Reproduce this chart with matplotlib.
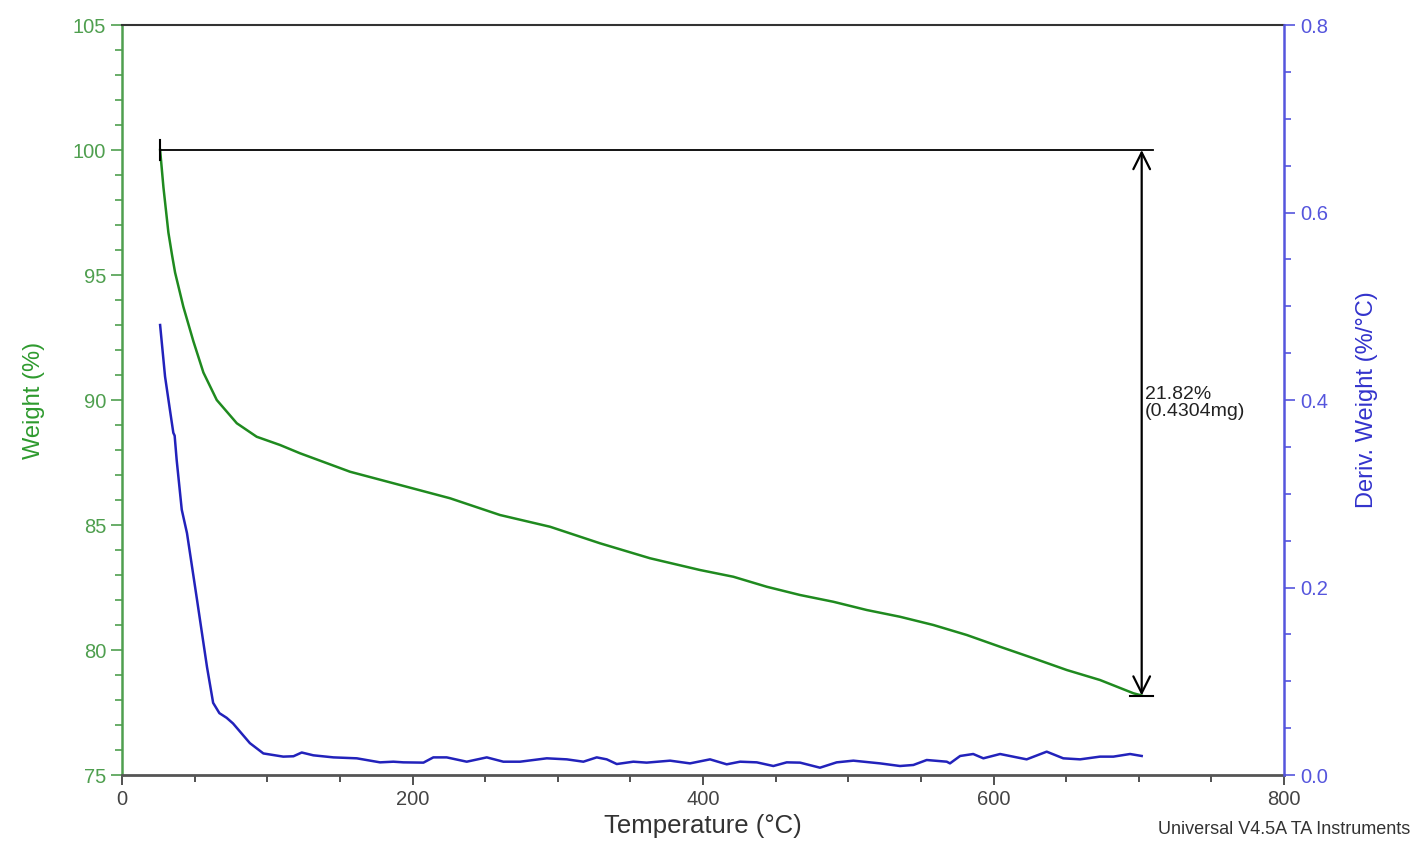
import matplotlib
matplotlib.use('Agg')
import matplotlib.pyplot as plt
from matplotlib.ticker import MultipleLocator

plt.rcParams['font.family'] = ['Liberation Sans', 'DejaVu Sans']

# Weight curve (%)
temp_w = [26.2, 28.5, 31.9, 34.4, 36.5, 42.2, 49.1, 56, 65.2, 79, 92.7, 108.8,
          122.5, 157, 191.4, 225.8, 260.2, 294.7, 329, 363.5, 397.9, 420.9,
          443.9, 466.8, 489.7, 512.7, 535.6, 558.6, 581.6, 604.5, 627.5, 650.4,
          673.3, 696.3, 702]
weight = [100.0, 98.5, 96.7, 95.8, 95.1, 93.73, 92.35, 91.1, 90.0, 89.07, 88.53,
          88.2, 87.87, 87.13, 86.6, 86.07, 85.4, 84.93, 84.27, 83.67, 83.2,
          82.93, 82.53, 82.2, 81.93, 81.6, 81.33, 81.0, 80.6, 80.13, 79.67, 79.2,
          78.8, 78.27, 78.18]

# Derivative weight curve (%/°C)
temp_d = [26.2, 29.6, 33, 35.3, 36.2, 37.6, 41.1, 44.7, 51.6, 58.5, 62.7, 67, 72,
          76.4, 88, 97.3, 111, 118, 123.7, 131.7, 145.5, 161.6, 177.6, 186.8,
          193.7, 207.5, 214.3, 223.5, 237.3, 251.1, 262.5, 274, 292.4, 306.2,
          317.6, 326.8, 333.7, 340.6, 352, 361.2, 377.3, 391, 404.8, 416.3,
          425.5, 437, 448.4, 457.6, 466.8, 480.5, 492, 503.5, 521.9, 535.6,
          544.8, 554, 567.8, 570, 577, 586, 593, 604.5, 616, 622.8, 636.6, 648,
          659.6, 673.3, 682.5, 694, 702]
deriv = [0.480, 0.425, 0.389, 0.365, 0.362, 0.336, 0.283, 0.258, 0.187, 0.115,
         0.077, 0.066, 0.061, 0.055, 0.034, 0.023, 0.0196, 0.020, 0.024, 0.021,
         0.0188, 0.0178, 0.0135, 0.0142, 0.0135, 0.0132, 0.0188, 0.0188, 0.0142,
         0.0188, 0.0142, 0.0142, 0.0178, 0.0167, 0.0142, 0.0188, 0.0167, 0.0117,
         0.0142, 0.0132, 0.0153, 0.0124, 0.0167, 0.0114, 0.0142, 0.0135, 0.0096,
         0.0135, 0.0132, 0.0078, 0.0135, 0.0153, 0.0124, 0.0096, 0.0107, 0.016,
         0.0142, 0.0124, 0.0203, 0.0224, 0.0178, 0.0224, 0.0188, 0.0167, 0.0249,
         0.0178, 0.0167, 0.0196, 0.0196, 0.0224, 0.0203]

loss_pct = '21.82%'
loss_mg = '(0.4304mg)'
w_start, w_end = 100.0, 78.18
t_start, t_end = 26, 702

green_line = '#1f8a1f'
green_axis = '#4f9f4f'
blue_line = '#2222bb'
blue_axis = '#5555dd'

fig = plt.figure(figsize=(14.16, 8.51), dpi=100)
ax = fig.add_axes([0.0862, 0.0893, 0.8206, 0.8813])
ax2 = ax.twinx()

ax.plot(temp_w, weight, color=green_line, lw=1.8)
ax2.plot(temp_d, deriv, color=blue_line, lw=1.8)

ax.set_xlim(0, 800)
ax.set_ylim(75, 105)
ax2.set_ylim(0, 0.8)

ax.xaxis.set_major_locator(MultipleLocator(200))
ax.xaxis.set_minor_locator(MultipleLocator(50))
ax.yaxis.set_major_locator(MultipleLocator(5))
ax.yaxis.set_minor_locator(MultipleLocator(1))
ax2.yaxis.set_major_locator(MultipleLocator(0.2))
ax2.yaxis.set_minor_locator(MultipleLocator(0.05))
ax2.yaxis.set_major_formatter(plt.FormatStrFormatter('%.1f'))

ax.tick_params(axis='x', which='both', direction='out', colors='#333333',
               labelsize=14.5, labelcolor='#444444')
ax.tick_params(axis='x', which='major', length=7, width=1.2)
ax.tick_params(axis='x', which='minor', length=5, width=1.2)
ax.tick_params(axis='y', which='both', direction='out', colors=green_axis,
               labelsize=14.5)
ax.tick_params(axis='y', which='major', length=8, width=1.2)
ax.tick_params(axis='y', which='minor', length=5, width=1.2)
ax2.tick_params(axis='y', which='both', direction='out', colors=blue_axis,
                labelsize=14.5)
ax2.tick_params(axis='y', which='major', length=8, width=1.2)
ax2.tick_params(axis='y', which='minor', length=5, width=1.2)

ax.spines['left'].set_color(green_axis)
ax.spines['left'].set_linewidth(1.8)
ax.spines['bottom'].set_color('#555555')
ax.spines['bottom'].set_linewidth(2)
ax.spines['top'].set_color('#333333')
ax.spines['top'].set_linewidth(1.5)
ax.spines['right'].set_visible(False)
for s in ['left', 'top', 'bottom']:
    ax2.spines[s].set_visible(False)
ax2.spines['right'].set_color(blue_axis)
ax2.spines['right'].set_linewidth(1.8)

ax.set_xlabel('Temperature (°C)', fontsize=18.5, color='#333333', labelpad=4)
ax.set_ylabel('Weight (%)', fontsize=17, color='#2e9a2e', labelpad=20)
ax2.set_ylabel('Deriv. Weight (%/°C)', fontsize=17, color='#3333cc', labelpad=20)

# step annotation
ax.plot([t_start, t_end + 8], [w_start, w_start], color='black', lw=1.3)
ax.plot([t_start, t_start], [w_start - 0.4, w_start + 0.4], color='black', lw=1.5)
ax.plot([t_end - 8, t_end + 8], [w_end, w_end], color='black', lw=1.5)
ax.annotate('', xy=(t_end, w_end), xytext=(t_end, w_start),
            arrowprops=dict(arrowstyle='<->,head_length=0.6,head_width=0.3',
                            color='black', lw=1.6, mutation_scale=20,
                            shrinkA=0, shrinkB=0))
ax.text(t_end + 2, 89.9, loss_pct + '\n' + loss_mg, fontsize=14,
        color='#222222', ha='left', va='center', linespacing=1.0)

fig.text(0.996, 0.025, 'Universal V4.5A TA Instruments', fontsize=13,
         color='#333333', ha='right', va='center')

fig.savefig('out.png', dpi=100)
